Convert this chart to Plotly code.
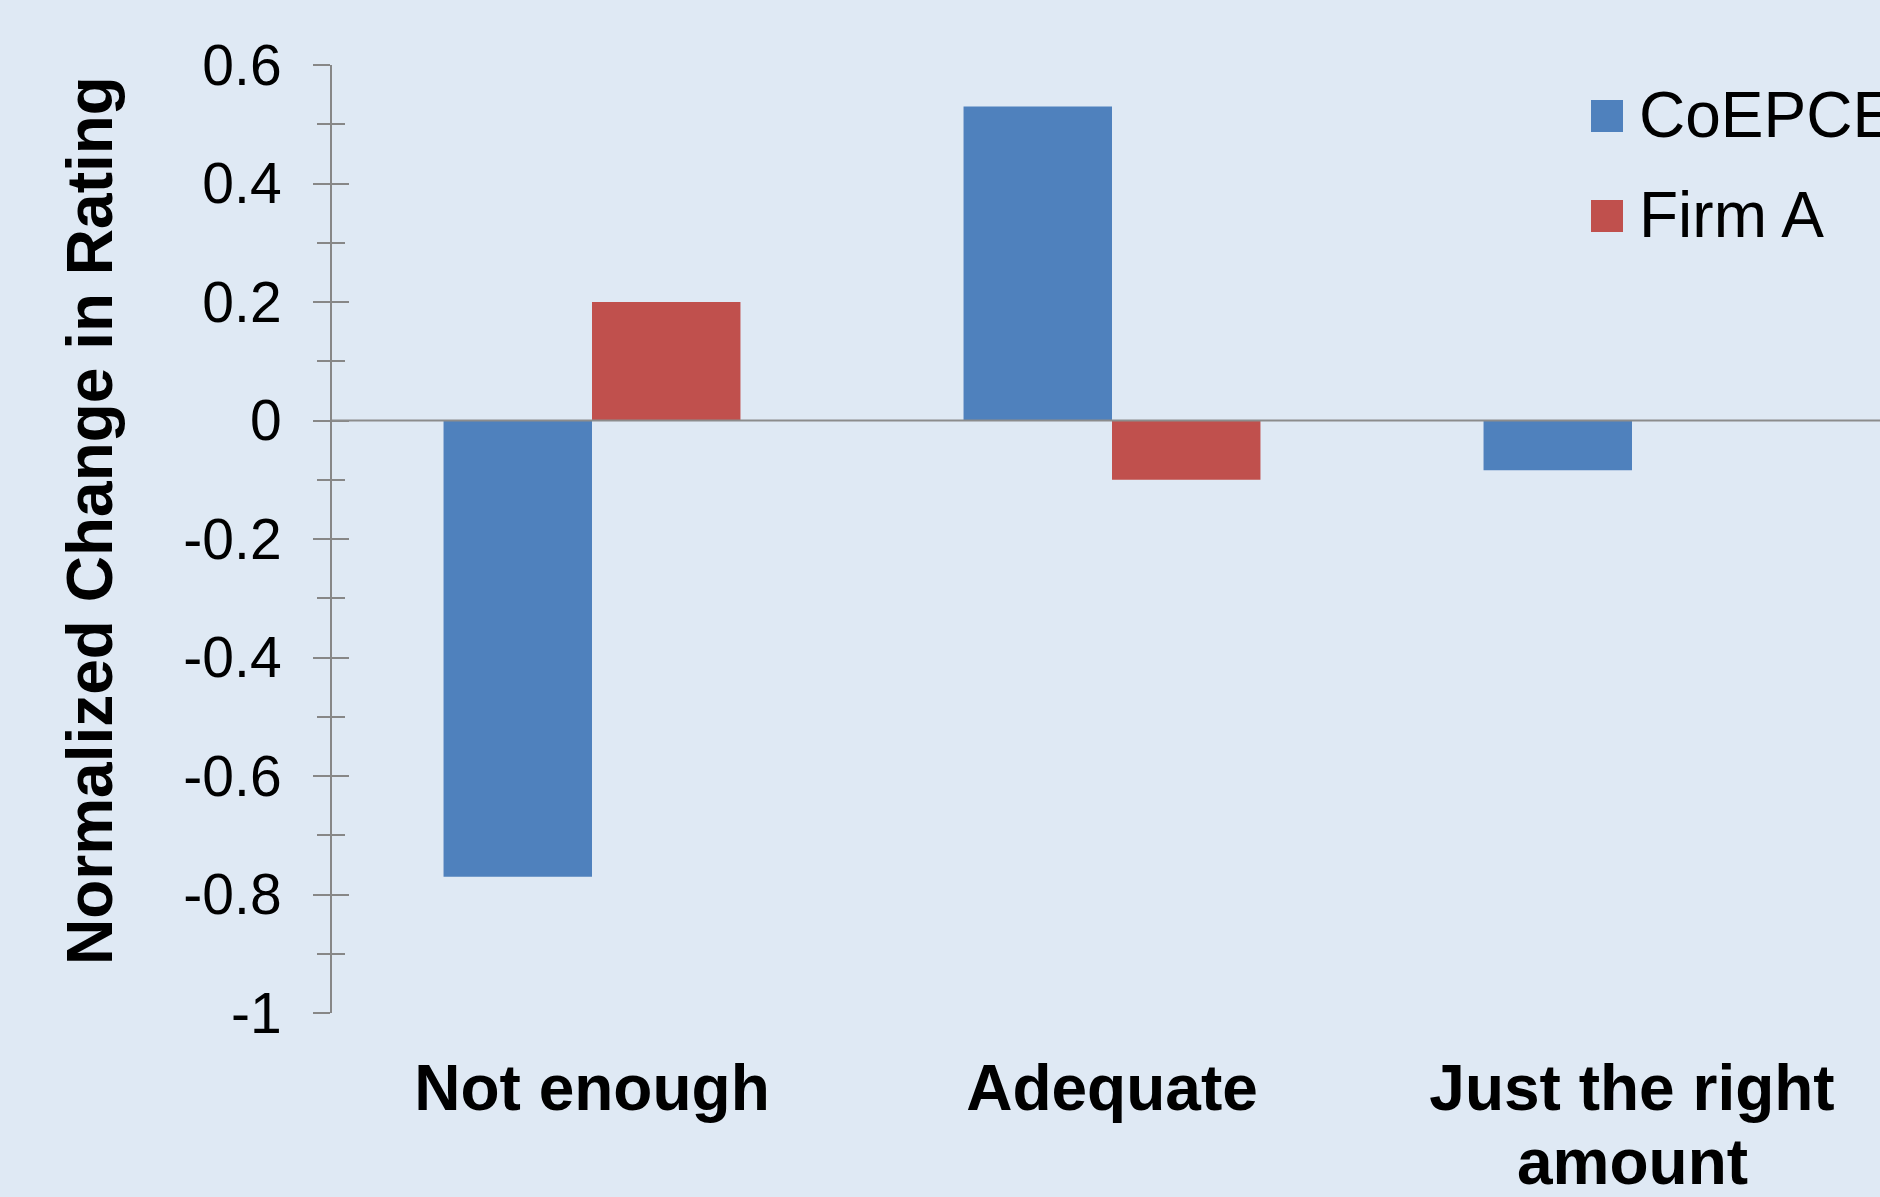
import plotly.graph_objects as go

# --- data -------------------------------------------------------------
categories = ["Not enough", "Adequate", "Just the right amount"]
category_label_lines = [["Not enough"], ["Adequate"], ["Just the right", "amount"]]
series_names = ["CoEPCE", "Firm A"]
coepce_values = [-0.77, 0.53, -0.084]
firm_a_values = [0.20, -0.10, 0.0]
y_tick_values = [0.6, 0.4, 0.2, 0, -0.2, -0.4, -0.6, -0.8, -1]
y_tick_labels = ["0.6", "0.4", "0.2", "0", "-0.2", "-0.4", "-0.6", "-0.8", "-1"]
y_title = "Normalized Change in Rating"

# --- styling ------------------------------------------------------------
W, H = 1880, 1197
M_L, M_R, M_T, M_B = 332, 0, 65, 184
BG = "#DFE9F4"
AXIS_GREY = "#878787"
COLORS = ["#4F81BD", "#C0504D"]
FONT = "Liberation Sans, Arial, sans-serif"
LABEL_SIZE = 64

plot_w = W - M_L - M_R
plot_h = H - M_T - M_B


def px_to_paper_x(px):
    return (px - M_L) / plot_w


def px_to_paper_y(py):
    return (H - M_B - py) / plot_h


fig = go.Figure()
for name, vals, col in zip(series_names, [coepce_values, firm_a_values], COLORS):
    fig.add_trace(go.Bar(
        x=categories, y=vals, name=name,
        marker=dict(color=col, line=dict(width=0)),
        showlegend=False, hoverinfo="x+y+name",
    ))

# carrier trace so the mirrored tick axis (inner half of the cross ticks) is drawn
fig.add_trace(go.Scatter(x=categories, y=coepce_values, yaxis="y2", mode="none",
                         showlegend=False, hoverinfo="skip"))

minor_vals = [(a + b) / 2 for a, b in zip(y_tick_values[:-1], y_tick_values[1:])]

common_y = dict(
    range=[y_tick_values[-1], y_tick_values[0]],
    tickmode="array", tickvals=y_tick_values,
    ticklen=17, tickwidth=2, tickcolor=AXIS_GREY,
    showgrid=False, zeroline=False, fixedrange=True,
)

fig.update_layout(
    width=W, height=H,
    margin=dict(l=M_L, r=M_R, t=M_T, b=M_B, pad=0, autoexpand=False),
    paper_bgcolor=BG, plot_bgcolor=BG,
    bargap=0.429, bargroupgap=0, barmode="group",
    font=dict(family=FONT, color="black"),
    xaxis=dict(
        range=[-0.5, -0.5 + plot_w / 520.0],
        tickmode="array", tickvals=categories,
        ticktext=[lines[0] for lines in category_label_lines],
        showline=False, showgrid=False, zeroline=False, ticks="",
        tickfont=dict(family=FONT, size=LABEL_SIZE, color="black", weight="bold"),
        ticklabelstandoff=32, fixedrange=True,
    ),
    yaxis=dict(
        **common_y,
        ticktext=y_tick_labels,
        ticks="outside",
        showline=True, linecolor=AXIS_GREY, linewidth=2,
        tickfont=dict(family=FONT, size=57, color="black"),
        ticklabelstandoff=20,
        minor=dict(tickmode="array", tickvals=minor_vals, ticks="outside",
                   ticklen=13, tickwidth=2, tickcolor=AXIS_GREY, showgrid=False),
    ),
    yaxis2=dict(
        **common_y,
        overlaying="y", side="left", anchor="x",
        ticks="inside", showticklabels=False, showline=False,
        minor=dict(tickmode="array", tickvals=minor_vals, ticks="inside",
                   ticklen=13, tickwidth=2, tickcolor=AXIS_GREY, showgrid=False),
    ),
)

# continuation lines of wrapped category labels, set tighter than <br> spacing
for cat, lines in zip(categories, category_label_lines):
    for i, line in enumerate(lines[1:], start=1):
        fig.add_annotation(
            text=line, xref="x", yref="paper", x=cat,
            y=px_to_paper_y(1124 + (i - 1) * 73), xanchor="center", yanchor="top",
            showarrow=False,
            font=dict(family=FONT, size=LABEL_SIZE, color="black", weight="bold"),
        )

# horizontal axis crossing at zero, drawn over the bars
fig.add_shape(type="line", xref="paper", yref="y", x0=0, x1=1, y0=0, y1=0,
              line=dict(color="#8C8C8C", width=2), layer="above")

# vertical axis title
fig.add_annotation(
    text=y_title, textangle=-90, xref="paper", yref="paper",
    x=0, xshift=90 - M_L, y=px_to_paper_y(521), xanchor="center", yanchor="middle",
    showarrow=False, font=dict(family=FONT, size=64, color="black", weight="bold"),
)

# legend: coloured squares with labels
legend_rows_py = [116, 216]
for name, col, cy in zip(series_names, COLORS, legend_rows_py):
    fig.add_shape(type="rect", xref="paper", yref="paper",
                  x0=px_to_paper_x(1591), x1=px_to_paper_x(1623),
                  y0=px_to_paper_y(cy - 16), y1=px_to_paper_y(cy + 16),
                  fillcolor=col, line=dict(width=0), layer="above")
    fig.add_annotation(
        text=name, xref="paper", yref="paper",
        x=px_to_paper_x(1637), y=px_to_paper_y(cy - 1),
        xanchor="left", yanchor="middle", showarrow=False,
        font=dict(family=FONT, size=64, color="black"),
    )

fig.write_html("out.html", config={"displayModeBar": False})
